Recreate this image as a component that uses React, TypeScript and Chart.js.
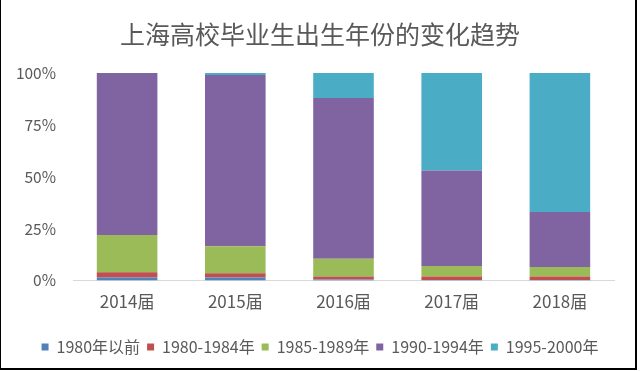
import React, { useEffect, useRef } from "react";
import { Chart, registerables } from "chart.js";

Chart.register(...registerables);

const categories = ["2014届", "2015届", "2016届", "2017届", "2018届"];
const seriesNames = ["1980年以前", "1980-1984年", "1985-1989年", "1990-1994年", "1995-2000年"];
const before1980 = [1.5, 1.5, 0.5, 0.3, 0.3];
const y1980_1984 = [2.5, 2.0, 1.5, 1.7, 1.7];
const y1985_1989 = [18, 13, 8.5, 5, 4.5];
const y1990_1994 = [78, 82.5, 77.5, 46, 26.5];
const y1995_2000 = [0, 1, 12, 47, 67];
const colors = ["#4F81BD", "#C0504D", "#9BBB59", "#8064A2", "#4BACC6"];
const yTicks = [0, 25, 50, 75, 100];

const FONT = "'Noto Sans CJK SC', 'Liberation Sans', sans-serif";

export default function App() {
  const ref = useRef<HTMLCanvasElement | null>(null);
  useEffect(() => {
    document.body.style.margin = "0";
    const values = [before1980, y1980_1984, y1985_1989, y1990_1994, y1995_2000];
    const chart = new Chart(ref.current!, {
      type: "bar",
      data: {
        labels: categories,
        datasets: seriesNames.map((n, i) => ({
          label: n,
          data: values[i],
          backgroundColor: colors[i],
          borderWidth: 0,
          barPercentage: 0.56,
          categoryPercentage: 1,
          yAxisID: "y",
        })),
      },
      options: {
        animation: false,
        responsive: false,
        maintainAspectRatio: false,
        layout: { padding: { left: 0, right: 0, top: 6, bottom: 6 } },
        plugins: {
          title: {
            display: true,
            text: "上海高校毕业生出生年份的变化趋势",
            color: "#595959",
            font: { family: FONT, size: 25, weight: "normal" },
            padding: { top: 13, bottom: 24 },
          },
          legend: {
            position: "bottom",
            labels: {
              boxWidth: 7,
              boxHeight: 7,
              color: "#595959",
              font: { family: FONT, size: 16 },
              padding: 7,
            },
          },
          tooltip: { enabled: false },
        },
        scales: {
          x: {
            stacked: true,
            grid: { display: false, drawTicks: false },
            border: { display: true, color: "#D9D9D9" },
            ticks: { color: "#595959", font: { family: FONT, size: 17 }, padding: 11 },
            afterFit: (s: any) => { s.height += 9; },
          },
          y: {
            stacked: true,
            min: 0,
            max: 100,
            afterFit: (s: any) => { s.width = 73; },
            afterBuildTicks: (s: any) => { s.ticks = yTicks.map((v) => ({ value: v })); },
            grid: { display: false, drawTicks: false },
            border: { display: false },
            ticks: {
              color: "#595959",
              font: { family: FONT, size: 15.5 },
              padding: 17,
              callback: (v: any) => v + "%",
            },
          },
          yRight: {
            position: "right",
            min: 0,
            max: 100,
            afterFit: (s: any) => { s.width = 26; },
            grid: { display: false, drawTicks: false },
            border: { display: false },
            ticks: { display: false },
          },
        },
      },
    });
    return () => chart.destroy();
  }, []);
  return (
    <div style={{ position: "fixed", left: 0, top: 0, width: 640, height: 371, background: "#fff" }}>
      <canvas ref={ref} width={640} height={371} />
      <div style={{ position: "absolute", left: 0, top: 0, width: 634, height: 368, borderLeft: "2px solid #000", borderRight: "2px solid #000", borderBottom: "2px solid #000", boxSizing: "content-box", pointerEvents: "none", marginLeft: -1 }} />
    </div>
  );
}
